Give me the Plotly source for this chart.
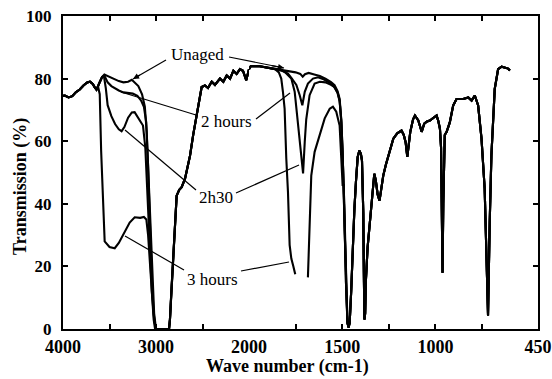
import plotly.graph_objects as go

# ---------------- data (wavenumber cm-1, transmission %) ----------------
# shared beginning of every spectrum
start_wn = [4000, 3980, 3940, 3900, 3860, 3820, 3780, 3740, 3710, 3680, 3660, 3640]
start_t = [74.5, 74.6, 74.0, 74.4, 75.7, 76.5, 77.8, 78.8, 79.0, 78.3, 77.3, 76.5]

# O-H / C-H region, per series
unaged_oh_wn = [3610, 3580, 3555, 3520, 3480, 3440, 3400, 3350, 3300, 3260, 3230, 3190, 3150, 3120, 3100, 3080, 3060, 3040, 3020, 3000]
unaged_oh_t = [78.5, 80.5, 81.3, 80.8, 80.2, 79.7, 79.2, 78.8, 79.0, 79.6, 78.8, 77.6, 75.0, 71.0, 63.0, 48.0, 30.0, 15.0, 5.0, 0.0]
h2_oh_wn = [3610, 3580, 3555, 3520, 3480, 3440, 3400, 3350, 3300, 3250, 3200, 3160, 3130, 3105, 3085, 3065, 3045, 3025, 3005]
h2_oh_t = [78.5, 80.5, 81.0, 78.8, 77.6, 76.8, 76.2, 75.6, 75.3, 75.2, 74.5, 73.0, 71.0, 66.0, 52.0, 33.0, 16.0, 5.0, 0.0]
h230_oh_wn = [3610, 3580, 3560, 3540, 3520, 3480, 3440, 3400, 3370, 3340, 3300, 3260, 3230, 3200, 3170, 3140, 3115, 3095, 3070, 3045, 3020, 3000]
h230_oh_t = [78.5, 80.5, 80.8, 77.0, 71.5, 68.0, 65.5, 63.8, 63.2, 64.5, 67.5, 69.2, 69.3, 68.0, 66.5, 65.0, 58.0, 45.0, 28.0, 12.0, 3.0, 0.0]
h3_oh_wn = [3620, 3605, 3590, 3570, 3552, 3500, 3444, 3400, 3337, 3283, 3229, 3170, 3130, 3104, 3085, 3065, 3045, 3025, 3010]
h3_oh_t = [77.0, 75.0, 57.0, 40.0, 28.0, 26.2, 25.8, 27.5, 31.0, 34.0, 35.7, 35.5, 35.8, 35.0, 30.0, 20.0, 10.0, 3.0, 0.0]

# shared C-H recovery and plateau
ch_wn = [2860, 2850, 2835, 2815, 2795, 2778, 2750, 2724, 2688, 2660, 2634, 2600, 2563, 2530, 2509, 2474, 2441, 2401, 2366, 2312, 2276, 2240, 2204, 2168, 2133, 2097, 2065, 2030, 2010, 2000, 1990, 1950, 1900, 1860]
ch_t = [0.0, 3.0, 12.0, 24.0, 36.0, 42.6, 44.5, 45.3, 48.0, 51.5, 55.4, 62.0, 68.2, 74.0, 77.3, 77.8, 77.0, 79.0, 78.0, 80.0, 79.0, 81.0, 80.0, 82.5, 81.5, 83.0, 82.5, 79.5, 82.0, 83.0, 84.0, 84.0, 83.5, 83.0]

# carbonyl region, per series
unaged_co_wn = [1820, 1780, 1750, 1725, 1712, 1700, 1680, 1650, 1620, 1590, 1560, 1541, 1525, 1514, 1505, 1498]
unaged_co_t = [82.6, 82.3, 82.0, 81.5, 80.6, 81.4, 81.8, 81.3, 80.8, 80.0, 78.9, 77.9, 76.0, 73.6, 67.0, 57.0]
h2_co_wn = [1820, 1791, 1770, 1746, 1728, 1714, 1701, 1684, 1657, 1630, 1600, 1570, 1545, 1525, 1514, 1505, 1498]
h2_co_t = [82.4, 81.6, 80.0, 78.0, 74.7, 71.5, 75.8, 78.4, 80.0, 80.4, 79.8, 78.8, 77.5, 75.5, 73.0, 66.5, 56.5]
h230_co_wn = [1830, 1809, 1790, 1773, 1755, 1737, 1719, 1710, 1701, 1693, 1675, 1648, 1620, 1590, 1560, 1541, 1525, 1514, 1505, 1498]
h230_co_t = [82.8, 82.2, 81.0, 80.0, 75.8, 65.0, 54.5, 49.7, 59.8, 67.0, 74.7, 78.4, 79.0, 78.8, 78.0, 77.3, 75.5, 72.8, 66.0, 56.0]
h3_co_wn = [1840, 1827, 1818, 1809, 1800, 1791, 1782, 1773, 1762, 1752, 1720, 1684, 1675, 1666, 1648, 1621, 1594, 1567, 1550, 1532, 1514, 1505, 1498]
h3_co_t = [82.0, 80.0, 75.8, 70.4, 54.5, 43.8, 26.8, 22.5, 20.0, 17.5, None, 16.5, 33.0, 49.0, 56.6, 62.0, 67.3, 70.4, 71.0, 69.4, 65.0, 54.5, 46.0]

# shared fingerprint region
fp_wn = [1492, 1486, 1480, 1472, 1466, 1460, 1452, 1444, 1435, 1426, 1417, 1408, 1400, 1394, 1390, 1387, 1384, 1381, 1377, 1373,
         1364, 1355, 1346, 1336, 1328, 1320, 1310, 1300, 1290, 1280, 1266, 1253, 1240, 1226, 1205, 1182, 1170, 1160, 1151, 1143,
         1135, 1120, 1110, 1092, 1074, 1060, 1045, 1030, 1010, 994, 985, 976, 970, 966, 962, 958, 954, 950, 940, 923,
         905, 887, 851, 824, 806, 789, 771, 753, 736, 724, 718, 709, 700, 682, 664, 645, 628, 610, 601]
fp_t = [46.0, 30.0, 15.0, 2.0, 0.5, 2.0, 12.0, 26.0, 38.0, 47.4, 55.0, 57.0, 56.0, 53.8, 45.0, 37.0, 18.0, 3.0, 5.0, 15.5,
        26.0, 32.0, 37.0, 44.0, 49.6, 47.5, 43.0, 41.0, 45.0, 49.0, 52.5, 55.4, 58.0, 60.8, 62.5, 63.4, 62.0, 59.7, 55.0, 59.0,
        63.0, 67.0, 68.2, 66.6, 63.0, 65.6, 66.3, 66.6, 67.5, 68.2, 66.5, 64.0, 58.0, 40.0, 18.0, 40.0, 58.0, 62.0, 63.0, 66.0,
        71.4, 73.5, 73.5, 74.0, 73.0, 74.6, 71.4, 60.8, 44.8, 19.2, 4.3, 34.0, 55.4, 76.7, 83.0, 83.8, 83.6, 83.2, 82.6]

series = {
    "Unaged": (unaged_oh_wn, unaged_oh_t, unaged_co_wn, unaged_co_t),
    "2 hours": (h2_oh_wn, h2_oh_t, h2_co_wn, h2_co_t),
    "2h30": (h230_oh_wn, h230_oh_t, h230_co_wn, h230_co_t),
    "3 hours": (h3_oh_wn, h3_oh_t, h3_co_wn, h3_co_t),
}

y_ticks = [0, 20, 40, 60, 80, 100]
y_ticktext = ["0", "20", "40", "60", "80", "100"]
left_tickvals = [4000, 3500, 3000, 2500, 2000]
left_ticktext = ["4000", "", "3000", "", "2000"]
right_tickvals = [1750, 1500, 1250, 1000, 750, 450]
right_ticktext = ["", "1500", "", "1000", "", "450"]


def bold(labels):
    return ["<b>%s</b>" % s if s else "" for s in labels]


# ---------------- figure ----------------
fig = go.Figure()
line_style = dict(color="black", width=2.1)

for name, (ow, ot, cw, ct) in series.items():
    wn = start_wn + ow + ch_wn + cw + fp_wn
    t = start_t + ot + ch_t + ct + fp_t
    lw = [w for w in wn if w >= 2000]
    lt = [v for w, v in zip(wn, t) if w >= 2000]
    rw = [w for w in wn if w <= 2000]
    rt = [v for w, v in zip(wn, t) if w <= 2000]
    fig.add_trace(go.Scatter(x=lw, y=lt, mode="lines", line=line_style, name=name,
                             xaxis="x", yaxis="y", showlegend=False, connectgaps=False))
    fig.add_trace(go.Scatter(x=rw, y=rt, mode="lines", line=line_style, name=name,
                             xaxis="x2", yaxis="y2", showlegend=False, connectgaps=False))

W, H = 552, 379
L, R, T, B = 63, 538, 16, 329
split = (249 - L) / (R - L)

serif = "Liberation Serif"
xtickfont = dict(family=serif, size=18, color="black")
ytickfont = dict(family=serif, size=17, color="black")

common_x = dict(showline=True, linecolor="black", linewidth=2, mirror="ticks", ticks="inside",
                ticklen=5, tickwidth=1.5, tickcolor="black", showgrid=False, zeroline=False,
                tickfont=xtickfont, automargin=False)
fig.update_layout(
    width=W, height=H,
    margin=dict(l=L, r=W - R, t=T, b=H - B, autoexpand=False),
    paper_bgcolor="white", plot_bgcolor="white",
    xaxis=dict(domain=[0, split], range=[4000, 2000], anchor="y", tickmode="array",
               tickvals=left_tickvals, ticktext=bold(left_ticktext), **common_x),
    xaxis2=dict(domain=[split, 1], range=[2000, 450], anchor="y2", tickmode="array",
                tickvals=right_tickvals, ticktext=bold(right_ticktext), **common_x),
    yaxis=dict(range=[0, 100], anchor="x", tickmode="array", tickvals=y_ticks,
               ticktext=bold(y_ticktext), automargin=False, ticklabelstandoff=6,
               showline=True, linecolor="black", linewidth=2, ticks="inside", ticklen=5,
               tickwidth=1.5, tickcolor="black", showgrid=False, zeroline=False, tickfont=ytickfont),
    yaxis2=dict(range=[0, 100], anchor="x2", overlaying="y", side="right", tickmode="array",
                tickvals=y_ticks, showticklabels=False, showline=True, linecolor="black",
                linewidth=2, ticks="inside", ticklen=5, tickwidth=1.5, tickcolor="black",
                showgrid=False, zeroline=False, automargin=False),
    showlegend=False,
)


def px(xp):
    return (xp - L) / (R - L)


def py(yp):
    return (B - yp) / (B - T)


labels = [("Unaged", 197, 55), ("2 hours", 226, 122), ("2h30", 216, 197), ("3 hours", 212, 279)]
for text, x0, y0 in labels:
    fig.add_annotation(text=text, x=px(x0), y=py(y0), xref="paper", yref="paper",
                       xanchor="center", yanchor="middle",
                       showarrow=False, font=dict(family=serif, size=17, color="black"))

# leader lines: (head x, head y, tail x, tail y)
leaders = [
    (133, 79, 166, 60), (284, 68, 229, 57),
    (121, 92, 196, 115), (290, 93, 256, 119),
    (125, 130, 196, 190), (299, 165, 236, 193),
    (125, 236, 184, 270), (289, 262, 241, 271),
]
for hx, hy, tx, ty in leaders:
    fig.add_shape(type="line", xref="paper", yref="paper",
                  x0=px(tx), y0=py(ty), x1=px(hx), y1=py(hy),
                  line=dict(color="black", width=1.2))

# small arrowheads on the "Unaged" leaders
for hx, hy, tx, ty in leaders[:2]:
    fig.add_annotation(text="", x=px(hx), y=py(hy), xref="paper", yref="paper",
                       ax=(tx - hx) * 0.25, ay=(ty - hy) * 0.25, axref="pixel", ayref="pixel",
                       showarrow=True, arrowhead=2, arrowsize=1, arrowwidth=1.2,
                       arrowcolor="black", standoff=0)

fig.add_annotation(text="<b>Wave number (cm-1)</b>", x=px(287), y=py(366), xref="paper", yref="paper",
                   xanchor="center", yanchor="middle",
                   showarrow=False, font=dict(family=serif, size=18, color="black"))
fig.add_annotation(text="<b>Transmission (%)</b>", x=px(20), y=py(187), xref="paper", yref="paper",
                   xanchor="center", yanchor="middle", showarrow=False, textangle=-90,
                   font=dict(family=serif, size=18, color="black"))

fig.write_html("out.html")
